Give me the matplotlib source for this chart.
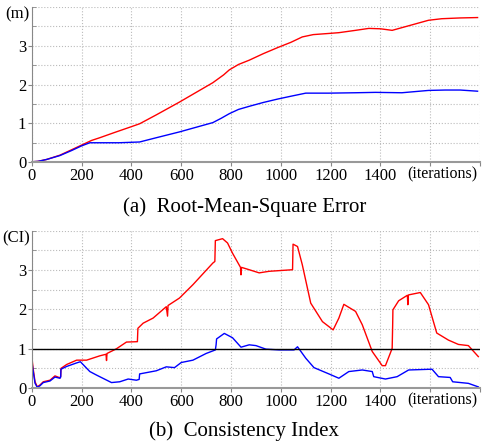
import matplotlib.pyplot as plt
import numpy as np

plt.rcParams['font.family'] = ['Liberation Serif', 'DejaVu Serif']

# (a) RMSE
rmse_red_x = [0, 25, 60, 113, 160, 200, 240, 273, 330, 393, 433, 500, 593, 660, 727, 770, 793, 830, 873, 930,
              989, 1040, 1086, 1130, 1193, 1233, 1300, 1353, 1400, 1447, 1520, 1593, 1646, 1720, 1790]
rmse_red_y = [0.01, 0.02, 0.07, 0.18, 0.32, 0.44, 0.56, 0.63, 0.76, 0.90, 0.99, 1.22, 1.55, 1.80, 2.05, 2.25,
              2.38, 2.52, 2.63, 2.80, 2.96, 3.09, 3.23, 3.29, 3.32, 3.34, 3.40, 3.45, 3.44, 3.40, 3.53, 3.66,
              3.70, 3.72, 3.73]
rmse_blue_x = [0, 25, 60, 113, 160, 200, 233, 273, 350, 433, 500, 593, 660, 727, 760, 793, 830, 873, 930, 989,
               1040, 1100, 1193, 1300, 1380, 1486, 1593, 1660, 1720, 1790]
rmse_blue_y = [0.01, 0.02, 0.07, 0.17, 0.30, 0.42, 0.50, 0.50, 0.50, 0.52, 0.63, 0.78, 0.90, 1.02, 1.13, 1.25,
               1.36, 1.44, 1.54, 1.63, 1.70, 1.78, 1.78, 1.79, 1.80, 1.79, 1.85, 1.86, 1.86, 1.83]

# (b) Consistency index
ci_red_x = [0, 5, 13, 22, 33, 46, 73, 93, 113, 116, 117, 140, 180, 220, 273, 298, 300, 302, 340, 380, 424, 426,
            447, 487, 540, 545, 547, 593, 647, 727, 735, 737, 766, 786, 806, 838, 840, 842, 873, 913, 953, 1047,
            1049, 1067, 1086, 1120, 1167, 1210, 1233, 1253, 1300, 1327, 1367, 1407, 1420, 1447, 1449, 1450, 1473,
            1508, 1510, 1512, 1513, 1560, 1593, 1626, 1673, 1713, 1753, 1793]
ci_red_y = [0.80, 0.51, 0.16, 0.03, 0.08, 0.16, 0.20, 0.31, 0.26, 0.30, 0.50, 0.60, 0.71, 0.71, 0.82, 0.86, 0.70, 0.88,
            1.00, 1.17, 1.18, 1.52, 1.65, 1.78, 2.07, 1.83, 2.10, 2.29, 2.63, 3.18, 3.22, 3.75, 3.80, 3.69, 3.43,
            3.07, 2.88, 3.07, 3.01, 2.93, 2.97, 3.01, 3.66, 3.60, 3.14, 2.16, 1.69, 1.48, 1.78, 2.13, 1.95, 1.61,
            0.93, 0.57, 0.57, 1.01, 1.60, 1.99, 2.22, 2.36, 2.12, 2.36, 2.37, 2.43, 2.12, 1.40, 1.22, 1.11, 1.08, 0.80]
ci_blue_x = [0, 5, 13, 22, 33, 46, 73, 93, 113, 116, 117, 140, 180, 195, 233, 260, 320, 353, 387, 420, 431, 433,
             500, 540, 573, 600, 647, 700, 737, 740, 742, 773, 806, 840, 873, 900, 940, 993, 1053, 1067, 1100, 1133,
             1193, 1233, 1273, 1327, 1367, 1373, 1420, 1467, 1513, 1607, 1633, 1680, 1690, 1753, 1793]
ci_blue_y = [0.70, 0.45, 0.12, 0.02, 0.06, 0.14, 0.18, 0.28, 0.25, 0.28, 0.48, 0.55, 0.64, 0.67, 0.42, 0.33, 0.14,
             0.16, 0.23, 0.20, 0.22, 0.36, 0.44, 0.54, 0.52, 0.65, 0.71, 0.88, 0.97, 1.10, 1.25, 1.39, 1.28, 1.04,
             1.10, 1.08, 0.99, 0.97, 0.97, 1.05, 0.76, 0.52, 0.36, 0.25, 0.42, 0.46, 0.42, 0.29, 0.23, 0.29, 0.46,
             0.48, 0.29, 0.27, 0.16, 0.12, 0.03]

xticks = [0, 200, 400, 600, 800, 1000, 1200, 1400, 1600, 1800]
xlabels = ['0', '200', '400', '600', '800', '1000', '1200', '1400', '', '']

fig = plt.figure(figsize=(4.82, 4.43), dpi=100)
ax1 = fig.add_axes([0.066, 0.634, 0.930, 0.350])
ax2 = fig.add_axes([0.066, 0.124, 0.930, 0.355])


def style(ax, unit):
    ax.set_xlim(0, 1800)
    ax.set_ylim(0, 4)
    ax.set_xticks(xticks)
    ax.set_xticklabels(xlabels)
    ax.set_yticks([0, 1, 2, 3])
    ax.set_yticks([0.5, 1.5, 2.5, 3.5, 4], minor=True)
    ax.grid(True, which='both', color='#bbbbbb', linestyle=':', linewidth=0.8)
    for s in ['top', 'right']:
        ax.spines[s].set_visible(False)
    ax.spines['left'].set_color('#888888')
    ax.spines['bottom'].set_color('#999999')
    ax.spines['bottom'].set_linewidth(1.5)
    ax.tick_params(axis='both', which='major', labelsize=12, length=3, width=0.8, color='#888888', pad=1)
    ax.tick_params(axis='y', which='minor', direction='in', length=3, color='#888888')
    ax.tick_params(axis='x', which='minor', length=0)
    ax.text(-0.005, 3.8, unit, transform=ax.get_yaxis_transform(), ha='right', va='center', fontsize=12)
    ax.text(1788, -0.1, '(iterations)', ha='right', va='top', fontsize=11.5, clip_on=False)


ax1.plot(rmse_red_x, rmse_red_y, color='red', lw=1.0)
ax1.plot(rmse_blue_x, rmse_blue_y, color='blue', lw=1.0)
style(ax1, '(m)')

ax2.plot(ci_red_x, ci_red_y, color='red', lw=1.0)
ax2.plot(ci_blue_x, ci_blue_y, color='blue', lw=1.0)
ax2.axhline(1, color='black', lw=1.0)
style(ax2, '(CI)')

fig.text(0.507, 0.533, '(a)  Root-Mean-Square Error', ha='center', va='center', fontsize=15)
fig.text(0.507, 0.027, '(b)  Consistency Index', ha='center', va='center', fontsize=15)

fig.savefig('out.png', dpi=100)
